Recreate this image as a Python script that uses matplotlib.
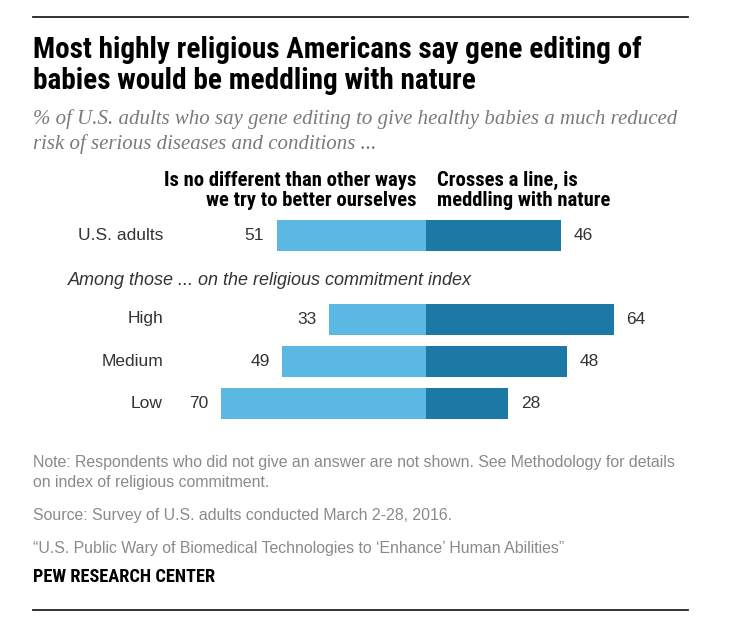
import matplotlib
matplotlib.use('Agg')
import matplotlib.pyplot as plt
from matplotlib import font_manager
import numpy as np

# data
groups = ['U.S. adults', 'High', 'Medium', 'Low']
no_different = [51, 33, 49, 70]
crosses_line = [46, 64, 48, 28]
rows = [0, 2, 3, 4]

light = '#5BB8E3'
dark = '#1C78A5'

W, H = 732, 630
PX_PER_UNIT = 2.93
ZERO_X = 426
ROW0_Y = 235
ROW_STEP = 42.0


def pick(names):
    for n in names:
        try:
            font_manager.findfont(font_manager.FontProperties(family=n),
                                  fallback_to_default=False)
            return n
        except Exception:
            pass
    return 'DejaVu Sans'


narrow = pick(['Liberation Sans Narrow', 'Roboto Condensed', 'Roboto'])
sans = pick(['Liberation Sans', 'Roboto'])
serif = pick(['Liberation Serif', 'DejaVu Serif'])

fig = plt.figure(figsize=(W / 100, H / 100), dpi=100)
ax = fig.add_axes([0, 0, 1, 1])
ax.set_xlim(-ZERO_X / PX_PER_UNIT, (W - ZERO_X) / PX_PER_UNIT)
ax.set_ylim((H - ROW0_Y) / ROW_STEP, -ROW0_Y / ROW_STEP)
ax.axis('off')

ax.barh(rows, [-v for v in no_different], height=31 / ROW_STEP, color=light)
ax.barh(rows, crosses_line, height=31 / ROW_STEP, color=dark)

label_tr = matplotlib.transforms.blended_transform_factory(fig.transFigure, ax.transData)
for r, g, a, b in zip(rows, groups, no_different, crosses_line):
    ax.text(-a - 4.3, r, str(a), ha='right', va='center', fontsize=12.5,
            family=sans, color='#333333')
    ax.text(b + 4.3, r, str(b), ha='left', va='center', fontsize=12.5,
            family=sans, color='#333333')
    ax.text(163 / W, r, g, ha='right', va='center', fontsize=12.5,
            family=sans, color='#333333', transform=label_tr)


def px(x, y):
    return x / W, 1 - y / H


renderer = fig.canvas.get_renderer()


def fit(t, width):
    # scale font so the text spans the given pixel width
    w = t.get_window_extent(renderer).width
    t.set_fontsize(t.get_fontsize() * width / w)
    return t.get_fontsize()


def txt(x, y, s, **kw):
    return fig.text(*px(x, y), s, va='baseline', **kw)


# rules
fig.add_artist(plt.Line2D([33 / W, 688 / W], [1 - 17 / H] * 2, color='#222222', lw=1.3))
fig.add_artist(plt.Line2D([33 / W, 688 / W], [1 - 610 / H] * 2, color='#222222', lw=1.3))

# title
t1 = txt(33, 58, 'Most highly religious Americans say gene editing of',
         fontsize=16, family=narrow, weight='bold', color='black')
fs = fit(t1, 609)
txt(33, 89, 'babies would be meddling with nature', fontsize=fs,
    family=narrow, weight='bold', color='black')

# subtitle
s1 = txt(33, 124, '% of U.S. adults who say gene editing to give healthy babies a much reduced',
         fontsize=13, family=serif, style='italic', color='#7a7a7a')
fs = fit(s1, 639)
txt(33, 149, 'risk of serious diseases and conditions ...', fontsize=fs,
    family=serif, style='italic', color='#7a7a7a')

# column headers
h1 = txt(416, 186, 'Is no different than other ways', ha='right', fontsize=11,
         family=narrow, weight='bold', color='black')
fs = fit(h1, 251)
txt(416, 206, 'we try to better ourselves', ha='right', fontsize=fs,
    family=narrow, weight='bold', color='black')
txt(437, 186, 'Crosses a line, is', fontsize=fs, family=narrow, weight='bold', color='black')
txt(437, 206, 'meddling with nature', fontsize=fs, family=narrow, weight='bold', color='black')

a1 = txt(68, 285, 'Among those ... on the religious commitment index', fontsize=11,
         family=sans, style='italic', color='#333333')
fit(a1, 405)

# notes
n1 = txt(33, 467, 'Note: Respondents who did not give an answer are not shown. See Methodology for details',
         fontsize=10, family=sans, color='#8a8a8a')
fs = fit(n1, 647)
txt(33, 487, 'on index of religious commitment.', fontsize=fs, family=sans, color='#8a8a8a')
txt(33, 520, 'Source: Survey of U.S. adults conducted March 2-28, 2016.', fontsize=fs,
    family=sans, color='#8a8a8a')
txt(33, 553, '\u201cU.S. Public Wary of Biomedical Technologies to \u2018Enhance\u2019 Human Abilities\u201d',
    fontsize=fs, family=sans, color='#8a8a8a')
p = txt(33, 582, 'PEW RESEARCH CENTER', fontsize=10, family=narrow, weight='bold', color='black')
fit(p, 181)

fig.savefig('out.png', dpi=100)
